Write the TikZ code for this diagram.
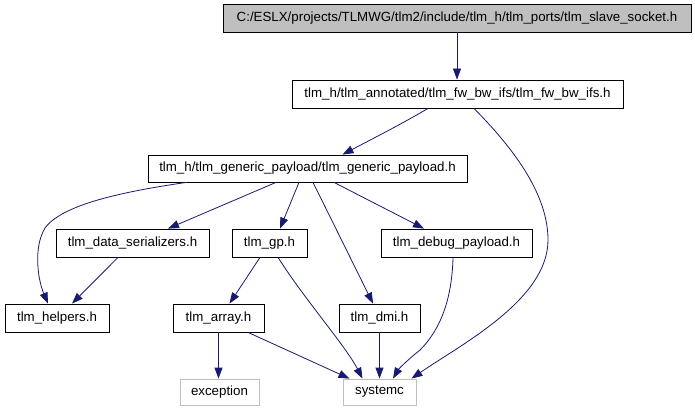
\documentclass[tikz,border=0pt]{standalone}
\usepackage{fontspec}
\setmainfont{Liberation Sans}
\usetikzlibrary{arrows.meta}
\definecolor{edgeblue}{HTML}{191970}
\definecolor{lgray}{HTML}{BFBFBF}
\tikzset{
  box/.style={draw=black, line width=0.8pt, minimum height=27pt, inner sep=0pt,
    font=\fontsize{13.3}{16}\selectfont, text=black},
  extbox/.style={box, draw=lgray},
  edge/.style={draw=edgeblue, line width=0.8pt, -{Triangle[length=11pt,width=8pt]}},
}
\begin{document}
\begin{tikzpicture}[x=1pt,y=-1pt]
\useasboundingbox (0,0) rectangle (695,411);
% nodes
\node[box, fill=lgray, minimum width=468pt, minimum height=28pt] (top) at (457,18)
  {C:/ESLX/projects/TLMWG/tlm2/include/tlm\_h/tlm\_ports/tlm\_slave\_socket.h};
\node[box, minimum width=331pt, minimum height=28pt] (fw) at (457.5,94)
  {tlm\_h/tlm\_annotated/tlm\_fw\_bw\_ifs/tlm\_fw\_bw\_ifs.h};
\node[box, minimum width=319pt] (gen) at (307.5,168.5)
  {tlm\_h/tlm\_generic\_payload/tlm\_generic\_payload.h};
\node[box, minimum width=153pt, minimum height=28pt] (ser) at (132.5,243) {tlm\_data\_serializers.h};
\node[box, minimum width=75pt, minimum height=28pt] (gp) at (269.5,243) {tlm\_gp.h};
\node[box, minimum width=151pt, minimum height=28pt] (dbg) at (456.5,243) {tlm\_debug\_payload.h};
\node[box, minimum width=104pt, minimum height=28pt] (helpers) at (57,318) {tlm\_helpers.h};
\node[box, minimum width=91pt, minimum height=28pt] (array) at (218.5,318) {tlm\_array.h};
\node[box, minimum width=81pt, minimum height=28pt] (dmi) at (379.5,318) {tlm\_dmi.h};
\node[extbox, minimum width=79pt, minimum height=26pt] (exc) at (219.5,392) {exception};
\node[extbox, minimum width=73pt, minimum height=26pt] (sysc) at (379.5,392) {systemc};
% edges
\draw[edge] (top.south) -- (top.south |- fw.north);
\draw[edge] ([xshift=-29.5pt]fw.south) .. controls (400,125) and (370,140) .. ([xshift=35pt]gen.north);
\draw[edge] ([xshift=16.5pt]fw.south) .. controls (515,150) and (548,195) .. (548,240)
  .. controls (548,300) and (460,345) .. ([xshift=32pt]sysc.north);
\draw[edge] ([xshift=-121pt]gen.south) .. controls (120,192) and (62,205) .. (45,228)
  .. controls (33,248) and (38,280) .. ([xshift=-9pt]helpers.north);
\draw[edge] ([xshift=-31.5pt]gen.south) -- ([xshift=35.5pt]ser.north);
\draw[edge] ([xshift=-8.5pt]gen.south) -- ([xshift=10.5pt]gp.north);
\draw[edge] ([xshift=5.5pt]gen.south) -- ([xshift=-6.5pt]dmi.north);
\draw[edge] ([xshift=26.5pt]gen.south) -- ([xshift=-32.5pt]dbg.north);
\draw[edge] ([xshift=-14.5pt]ser.south) -- ([xshift=15pt]helpers.north);
\draw[edge] ([xshift=-9.5pt]gp.south) -- ([xshift=11pt]array.north);
\draw[edge] ([xshift=8.5pt]gp.south) .. controls (305,300) and (345,345) .. ([xshift=-17pt]sysc.north);
\draw[edge] (array.south) -- (array.south |- exc.north);
\draw[edge] ([xshift=29.5pt]array.south) -- ([xshift=-30pt]sysc.north);
\draw[edge] (dmi.south) -- (sysc.north);
\draw[edge] ([xshift=-3.5pt]dbg.south) .. controls (452,300) and (440,330) .. (420,350)
  .. controls (405,362) and (398,370) .. ([xshift=13.5pt]sysc.north);
\end{tikzpicture}
\end{document}
